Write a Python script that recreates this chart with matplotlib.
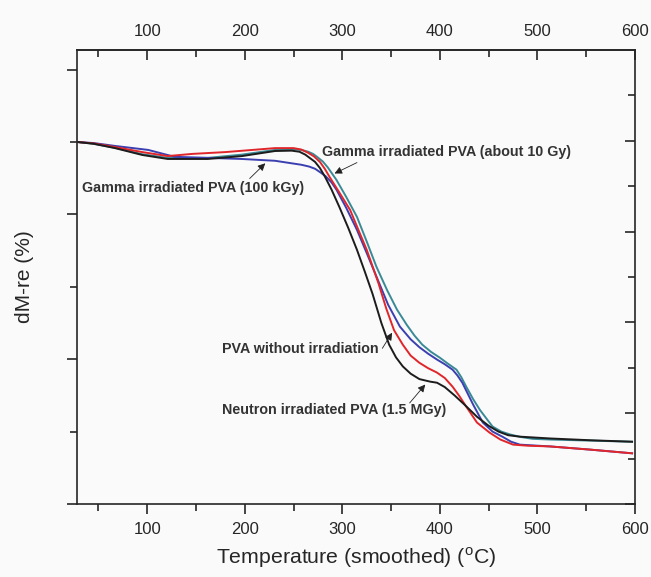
import matplotlib

matplotlib.use("Agg")
import matplotlib.pyplot as plt
from matplotlib.ticker import MultipleLocator, NullFormatter

plt.rcParams["font.family"] = ["Liberation Sans", "DejaVu Sans"]
plt.rcParams["mathtext.fontset"] = "custom"
plt.rcParams["mathtext.rm"] = "Liberation Sans"

# TG curves (mass residue vs temperature) for the four PVA samples
temp_plain = [28, 45, 67, 95, 121, 162, 197, 231, 248, 256, 262, 268, 272, 277, 282, 289,
              297, 306, 315, 323, 331, 340, 348, 355, 362, 370, 379, 390, 397, 405, 415,
              425, 438, 450, 460, 470, 482, 513, 555, 597]
mass_plain = [100, 99.5, 98.3, 96.4, 95.3, 95.3, 96.1, 97.5, 97.6, 97.3, 96.5, 95.3, 94.5,
              92.8, 90.5, 86.8, 82, 76.3, 70.2, 64.2, 58, 50, 44, 40.5, 38, 36, 34.5,
              33.8, 33.5, 32.3, 30, 27.5, 24.1, 21.6, 20, 19, 18.6, 18.1, 17.6, 17.2]

temp_neutron = [28, 45, 67, 95, 121, 146, 180, 231, 250, 258, 265, 271, 277, 282, 287,
                297, 308, 316, 325, 337, 345, 353, 362, 370, 379, 388, 397, 405, 413, 420,
                427, 438, 451, 462, 475, 490, 513, 555, 597]
mass_neutron = [100, 99.6, 98.6, 97.2, 96.1, 96.7, 97.2, 98.3, 98.3, 97.9, 97.0, 96.0,
                94.5, 92.6, 90.3, 86, 81.2, 76, 70.2, 61, 54, 48, 44, 41, 39, 37.5, 36.3,
                34.8, 32.4, 29.8, 26.9, 22.5, 19.7, 17.8, 16.4, 16.1, 15.9, 15.0, 14.0]

temp_100kgy = [28, 45, 67, 101, 128, 162, 197, 231, 258, 266, 272, 278, 283, 289, 294,
               304, 315, 325, 335, 347, 359, 370, 379, 388, 397, 405, 413, 418, 423, 434,
               444, 454, 464, 473, 482, 513, 555, 597]
mass_100kgy = [100, 99.7, 98.9, 97.8, 95.9, 95.6, 95.3, 94.8, 93.7, 93.2, 92.6, 91.5,
               90.5, 88.8, 86.8, 81.8, 75.7, 69.3, 62.8, 55, 49, 45.5, 43.3, 41.5, 39.9,
               38.6, 37.1, 35.5, 33.5, 27.5, 22.5, 20, 18.6, 17.2, 16.4, 15.9, 15.0, 14.0]

temp_10gy = [28, 45, 67, 95, 121, 162, 197, 231, 250, 258, 265, 270, 274, 280, 285, 294,
             304, 315, 325, 335, 346, 356, 366, 374, 382, 391, 400, 408, 417, 422, 427,
             434, 441, 448, 454, 463, 472, 483, 495, 513, 555, 597]
mass_10gy = [100, 99.5, 98.4, 96.6, 95.6, 95.6, 96.5, 97.8, 98.0, 97.8, 97.3, 96.7, 95.9,
             94.6, 93, 89.5, 84.8, 79.3, 72.5, 65.5, 59, 53.7, 49.5, 46.5, 44, 42, 40.4,
             38.8, 37.1, 35, 32.4, 29, 26, 23.5, 21.4, 20, 19.2, 18.5, 18.0, 17.8, 17.5,
             17.2]

curves = [
    (temp_10gy, mass_10gy, "#3a8a96"),
    (temp_100kgy, mass_100kgy, "#3b3fb0"),
    (temp_neutron, mass_neutron, "#e0262a"),
    (temp_plain, mass_plain, "#1c1c1c"),
]

# label text, text position, arrow tail, arrow head
notes = [
    ("Gamma irradiated PVA (100 kGy)", (147, 87.4), (205, 89.9), (221, 94.1)),
    ("Gamma irradiated PVA (about 10 Gy)", (407, 97.1), (315, 94.3), (292, 91.3)),
    ("PVA without irradiation", (257, 42.8), (341, 43.0), (351, 47.3)),
    ("Neutron irradiated PVA (1.5 MGy)", (292, 25.9), (369, 27.9), (385, 33.0)),
]

BG = "#fafafa"
INK = "#262626"

fig = plt.figure(figsize=(6.51, 5.77), dpi=100, facecolor=BG)
ax = fig.add_axes([77 / 651, 1 - 504 / 577, 558 / 651, 454 / 577], facecolor=BG)

for temps, mass, color in curves:
    ax.plot(temps, mass, color=color, lw=1.4, solid_joinstyle="round")

for text, text_xy, tail, head in notes:
    ax.text(*text_xy, text, ha="center", va="center", fontsize=10.3,
            fontweight="bold", color="#333333")
    ax.annotate("", xy=head, xytext=tail,
                arrowprops=dict(arrowstyle="-|>", color="#222222", lw=0.6,
                                mutation_scale=11, shrinkA=0, shrinkB=0))

ax.set_xlim(28, 600)
ax.set_ylim(0, 125.4)

for side in ax.spines.values():
    side.set_color(INK)
    side.set_linewidth(1.2)

ax.xaxis.set_major_locator(MultipleLocator(100))
ax.xaxis.set_minor_locator(MultipleLocator(50))
ax.yaxis.set_major_locator(MultipleLocator(40))
ax.yaxis.set_minor_locator(MultipleLocator(20))
ax.yaxis.set_major_formatter(NullFormatter())
ax.tick_params(axis="both", which="both", direction="out", colors=INK, width=1.2,
               labelsize=12, pad=6)
ax.tick_params(which="major", length=7)
ax.tick_params(which="minor", length=5)

# top scale repeats the temperature axis with inward ticks
top = ax.secondary_xaxis("top")
top.xaxis.set_major_locator(MultipleLocator(100))
top.xaxis.set_minor_locator(MultipleLocator(50))
top.tick_params(axis="x", which="both", direction="in", colors=INK, width=1.2,
                labelsize=12, pad=8)
top.tick_params(which="major", length=7)
top.tick_params(which="minor", length=5)
top.spines["top"].set_color(INK)
top.spines["top"].set_linewidth(1.2)

# right-hand scale: unlabeled, inward ticks
right = ax.twinx()
right.set_ylim(0, 5.0)
right.set_yticks([0, 1, 2, 3, 4])
right.set_yticks([0.5, 1.5, 2.5, 3.5, 4.5], minor=True)
right.yaxis.set_major_formatter(NullFormatter())
right.tick_params(axis="y", which="both", direction="in", colors=INK, width=1.2)
right.tick_params(which="major", length=7)
right.tick_params(which="minor", length=5)
for side in right.spines.values():
    side.set_visible(False)

ax.set_xlabel(r"Temperature (smoothed) ($^{\rm o}$C)", fontsize=15.3, color=INK,
              labelpad=6)
ax.set_ylabel("dM-re (%)", fontsize=15, color=INK, labelpad=18)

fig.savefig("out.png", dpi=100, facecolor=BG)
